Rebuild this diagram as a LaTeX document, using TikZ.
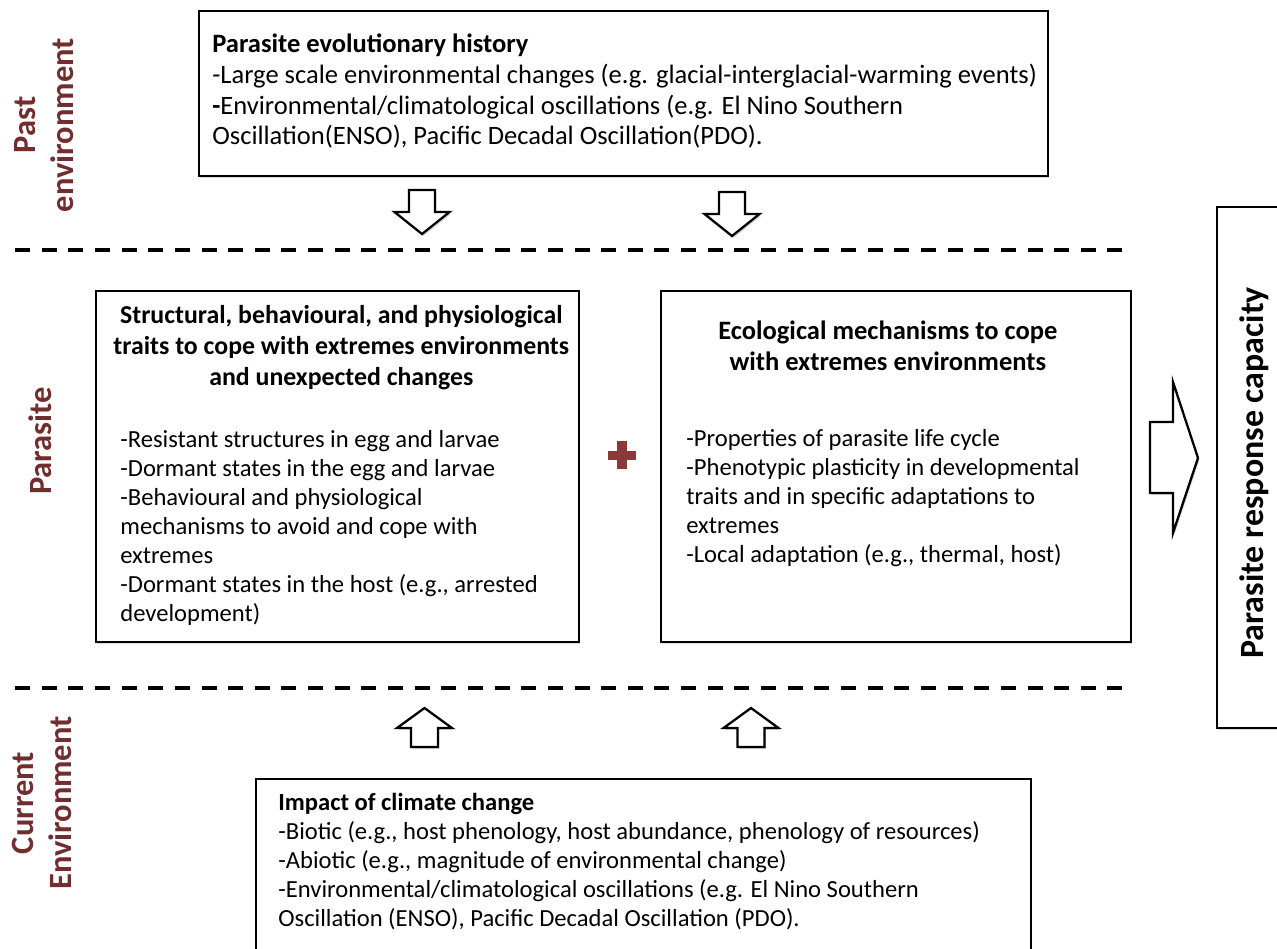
\documentclass[tikz,border=0pt]{standalone}
\usepackage{fontspec}
\setmainfont{Carlito}
\usetikzlibrary{positioning,shadows}

\definecolor{sectionred}{RGB}{114,46,46}
\definecolor{plusred}{RGB}{140,56,56}

\tikzset{
    framebox/.style={
        draw,
        line width=1pt,
        fill=white,
        anchor=north west,
        inner sep=0pt,
        drop shadow={opacity=0.3,shadow xshift=0.9pt,shadow yshift=-1.2pt}
    },
    boxtext/.style={
        align=left,
        inner sep=0pt,
        font=\fontsize{14}{16.5}\selectfont
    },
    boxhead/.style={
        align=center,
        inner sep=0pt,
        font=\fontsize{14.7}{17.6}\selectfont\bfseries
    },
    sectionlabel/.style={
        rotate=90,
        align=center,
        text=sectionred,
        font=\fontsize{18.5}{21.6}\selectfont\bfseries
    },
    separator/.style={
        line width=2.2pt,
        dash pattern=on 0.3cm off 0.233cm
    },
    blockarrow/.style={
        draw,
        line width=1.3pt,
        fill=white,
        line join=miter,
        drop shadow={opacity=0.3,shadow xshift=0.8pt,shadow yshift=-1.2pt}
    },
    downarr/.pic={
        \draw[blockarrow] (-13,0) -- (13,0) -- (13,22) -- (27.5,22) -- (0,44) -- (-27.5,22) -- (-13,22) -- cycle;
    },
    uparr/.pic={
        \draw[blockarrow] (0,0) -- (27.5,20) -- (13.5,20) -- (13.5,39) -- (-13.5,39) -- (-13.5,20) -- (-27.5,20) -- cycle;
    }
}

\begin{document}
\begin{tikzpicture}[x=0.02cm, y=-0.02cm]
    \useasboundingbox (0,0) rectangle (1277,948);
    \clip (0,0) rectangle (1277,948);

    % section labels
    \node[sectionlabel] (pastlabel) at (44,125) {Past\\environment};
    \node[sectionlabel] (parasitelabel) at (40,441) {Parasite};
    \node[sectionlabel] (currentlabel) at (42,803) {Current\\Environment};

    % separators
    \draw[separator] (15,250) -- (1130,250);
    \draw[separator] (15,688) -- (1130,688);

    % past environment
    \node[framebox, minimum width=16.98cm, minimum height=3.3cm] (past) at (198,10) {};
    \node[boxtext, font=\fontsize{15.1}{17.5}\selectfont, below right=0.47cm and 0.28cm of past.north west] (pasttext) {\textbf{Parasite evolutionary history}\\
        -Large scale environmental changes (e.g. glacial-interglacial-warming events)\\
        \textbf{-}Environmental/climatological oscillations (e.g. El Nino Southern\\
        Oscillation(ENSO), Pacific Decadal Oscillation(PDO).};

    \pic at (422,190) {downarr};
    \pic at (732,192) {downarr};

    % parasite
    \node[framebox, minimum width=9.66cm, minimum height=7.02cm] (traits) at (95,290) {};
    \node[boxhead, below=0.31cm of traits.north, xshift=0.08cm] (traitshead) {Structural, behavioural, and physiological\\
        traits to cope with extremes environments\\
        and unexpected changes};
    \node[boxtext, below right=2.8cm and 0.5cm of traits.north west] (traitstext) {-Resistant structures in egg and larvae\\
        -Dormant states in the egg and larvae\\
        -Behavioural and physiological\\
        mechanisms to avoid and cope with\\
        extremes\\
        -Dormant states in the host (e.g., arrested\\
        development)};

    \node[framebox, minimum width=9.4cm, minimum height=7.02cm] (ecol) at (660,290) {};
    \node[boxhead, font=\fontsize{15.1}{17.6}\selectfont\bfseries, below=0.62cm of ecol.north, xshift=-0.16cm] (ecolhead) {Ecological mechanisms to cope\\
        with extremes environments};
    \node[boxtext, below right=2.78cm and 0.52cm of ecol.north west] (ecoltext) {-Properties of parasite life cycle\\
        -Phenotypic plasticity in developmental\\
        traits and in specific adaptations to\\
        extremes\\
        -Local adaptation (e.g., thermal, host)};

    % plus sign
    \fill[plusred] (617,441) rectangle (627,469);
    \fill[plusred] (608,451) rectangle (636,460);

    % response capacity
    \draw[blockarrow] (1150,422) -- (1173,422) -- (1173,382) -- (1198,458) -- (1173,533) -- (1173,493) -- (1150,493) -- cycle;
    \node[framebox, minimum width=1.48cm, minimum height=10.42cm] (capacity) at (1216,206) {};
    \node[rotate=90, font=\fontsize{19.3}{21.6}\selectfont\bfseries] (capacitytext) at ([yshift=-0.11cm]capacity.center) {Parasite response capacity};

    % current environment
    \pic at (424.5,708) {uparr};
    \pic at (751,708) {uparr};
    \node[framebox, minimum width=15.5cm, minimum height=3.64cm] (current) at (255,778) {};
    \node[boxtext, below right=0.3cm and 0.46cm of current.north west] (currenttext) {\textbf{Impact of climate change}\\
        -Biotic (e.g., host phenology, host abundance, phenology of resources)\\
        -Abiotic (e.g., magnitude of environmental change)\\
        -Environmental/climatological oscillations (e.g. El Nino Southern\\
        Oscillation (ENSO), Pacific Decadal Oscillation (PDO).};
\end{tikzpicture}
\end{document}
